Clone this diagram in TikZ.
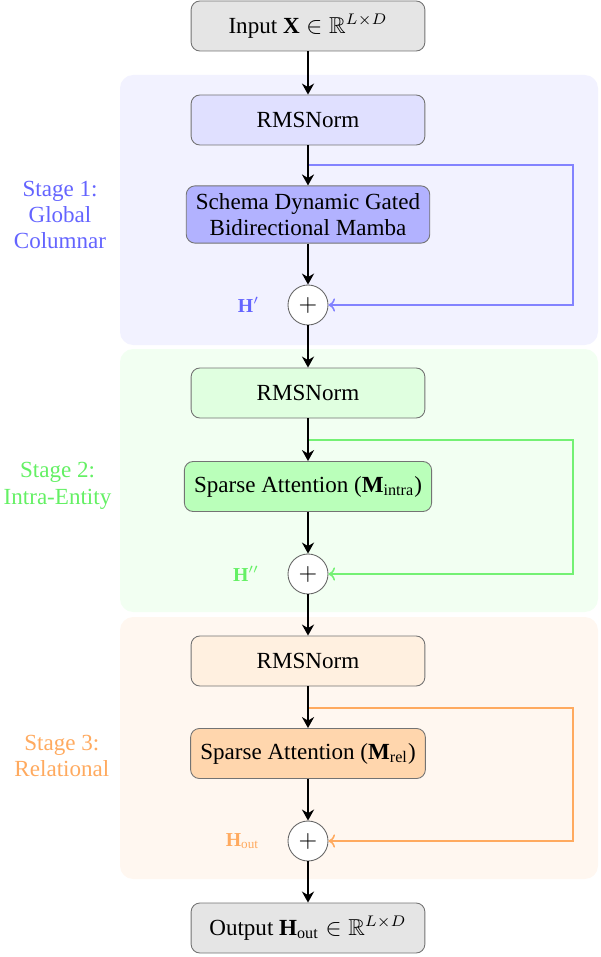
\documentclass[tikz,border=0pt]{standalone}
\usepackage{amsmath,amssymb}
\usepackage{fontspec}
\setmainfont{Liberation Serif}
\usetikzlibrary{positioning,arrows.meta}

\definecolor{stageA}{RGB}{100,100,255}
\definecolor{stageB}{RGB}{100,240,100}
\definecolor{stageC}{RGB}{255,170,95}

\tikzset{
  every node/.style={font=\fontsize{10.5}{12}\selectfont},
  block/.style={draw=black!55, rounded corners, minimum width=3.74cm, minimum height=0.8cm, inner xsep=4.4pt, align=center},
  io/.style={block, fill=gray!20},
  addop/.style={draw=black!60, circle, minimum size=0.64cm, inner sep=0pt, fill=white},
  flow/.style={-{Stealth[length=5pt,width=5.5pt]}, line width=0.9pt},
  skipline/.style={-{To[length=3pt,width=6pt]}, line width=0.7pt},
  stagebg/.style={rounded corners=6pt},
  hlabel/.style={font=\fontsize{9}{11}\selectfont}
}

\begin{document}
\begin{tikzpicture}
    \pgfmathsetmacro{\colx}{4.928}
    \pgfmathsetmacro{\skipx}{9.168}
    \useasboundingbox (0,0) rectangle (9.6,-15.312);

    % stage backgrounds
    \fill[stagebg, blue!5] (1.92,-1.2) rectangle (9.568,-5.52);
    \fill[stagebg, green!5] (1.92,-5.584) rectangle (9.568,-9.792);
    \fill[stagebg, orange!6] (1.92,-9.872) rectangle (9.568,-14.064);

    \node[align=center, text=stageA] (lab1) at (0.96,-3.44) {Stage 1:\\Global\\Columnar};
    \node[align=center, text=stageB] (lab2) at (0.92,-7.776) {Stage 2:\\Intra-Entity};
    \node[align=center, text=stageC] (lab3) at (0.99,-12.096) {Stage 3:\\Relational};

    \node[io] (input) at (\colx,-0.416) {Input $\mathbf{X}\in\mathbb{R}^{L\times D}$};

    \node[block, fill=blue!12] (norm1) at (\colx,-1.92) {RMSNorm};
    \node[block, fill=blue!30, minimum height=0.91cm] (mamba) at (\colx,-3.432) {Schema Dynamic Gated\\Bidirectional Mamba};
    \node[addop] (add1) at (\colx,-4.88) {$+$};
    \node[hlabel, text=stageA, left=0.33cm of add1] (h1) {$\mathbf{H}'$};

    \node[block, fill=green!12] (norm2) at (\colx,-6.288) {RMSNorm};
    \node[block, fill=green!27] (attn1) at (\colx,-7.784) {Sparse Attention ($\mathbf{M}_{\text{intra}}$)};
    \node[addop] (add2) at (\colx,-9.184) {$+$};
    \node[hlabel, text=stageB, left=0.33cm of add2] (h2) {$\mathbf{H}''$};

    \node[block, fill=orange!12] (norm3) at (\colx,-10.576) {RMSNorm};
    \node[block, fill=orange!32] (attn2) at (\colx,-12.056) {Sparse Attention ($\mathbf{M}_{\text{rel}}$)};
    \node[addop] (add3) at (\colx,-13.456) {$+$};
    \node[hlabel, text=stageC, left=0.33cm of add3] (h3) {$\mathbf{H}_{\text{out}}$};

    \node[io] (output) at (\colx,-14.848) {Output $\mathbf{H}_{\text{out}}\in\mathbb{R}^{L\times D}$};

    % skip connections
    \coordinate (br1) at (\colx,-2.64);
    \coordinate (br2) at (\colx,-7.04);
    \coordinate (br3) at (\colx,-11.328);
    \coordinate (turn1) at (\skipx,-2.64);
    \coordinate (turn2) at (\skipx,-7.04);
    \coordinate (turn3) at (\skipx,-11.328);
    \draw[skipline, stageA!80] (br1) -- (turn1) |- (add1);
    \draw[skipline, stageB!90] (br2) -- (turn2) |- (add2);
    \draw[skipline, stageC] (br3) -- (turn3) |- (add3);

    % main flow
    \draw[flow] (input) -- (norm1);
    \draw[flow] (norm1) -- (mamba);
    \draw[flow] (mamba) -- (add1);
    \draw[flow] (add1) -- (norm2);
    \draw[flow] (norm2) -- (attn1);
    \draw[flow] (attn1) -- (add2);
    \draw[flow] (add2) -- (norm3);
    \draw[flow] (norm3) -- (attn2);
    \draw[flow] (attn2) -- (add3);
    \draw[flow] (add3) -- (output);
  \end{tikzpicture}
\end{document}
